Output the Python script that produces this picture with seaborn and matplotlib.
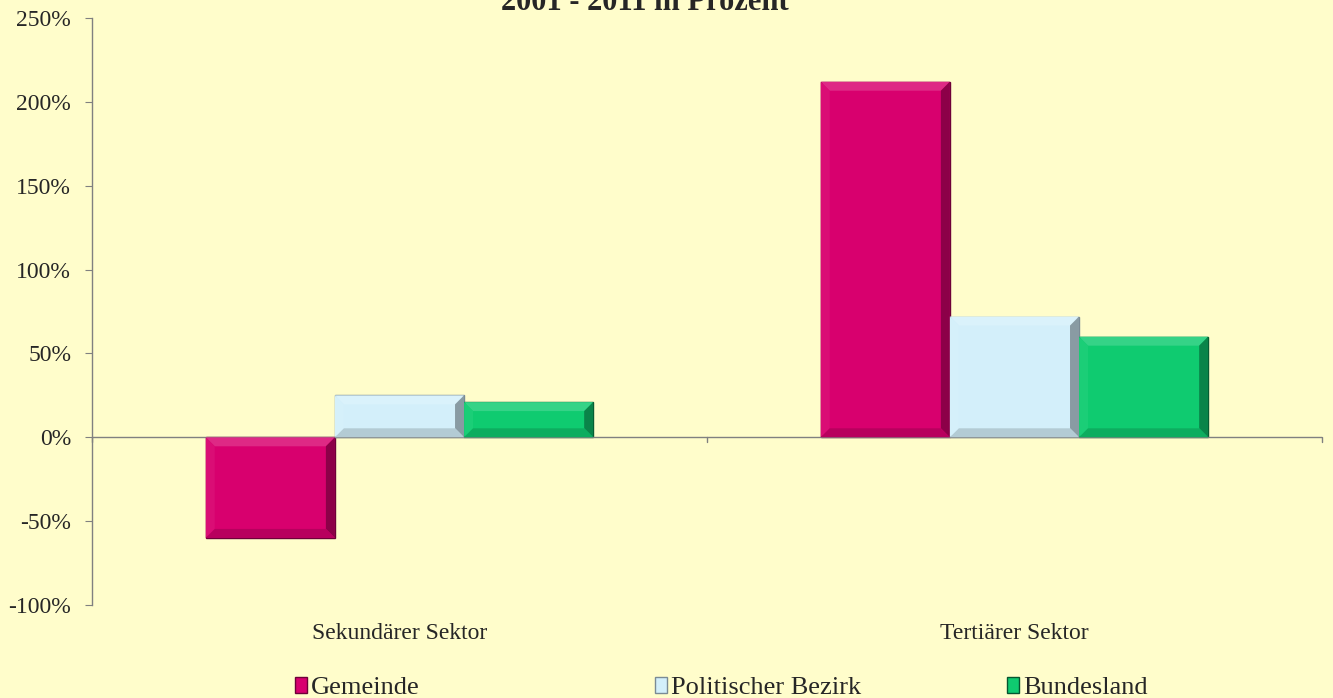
import numpy as np
import pandas as pd
import matplotlib.pyplot as plt
import matplotlib.patches as mpatches
from matplotlib.colors import to_rgb
import seaborn as sns

# data
sectors = ['Sekundärer Sektor', 'Tertiärer Sektor']
regions = ['Gemeinde', 'Politischer Bezirk', 'Bundesland']
gemeinde = [-60, 212]
bezirk = [25, 72]
bundesland = [21, 60]
yticks = [-100, -50, 0, 50, 100, 150, 200, 250]
colors = ['#D8006E', '#D3EFFA', '#0FCB70']
edge_colors = ['#6E0038', '#7A8B95', '#06552F']

df = pd.DataFrame({
    'Sektor': sectors * 3,
    'Region': [r for r in regions for _ in sectors],
    'Wert': gemeinde + bezirk + bundesland,
})


def mix(c, other, t):
    c, o = np.array(to_rgb(c)), np.array(to_rgb(other))
    return tuple(c * (1 - t) + o * t)


sns.set_style('white')
plt.rcParams['font.family'] = ['Liberation Serif', 'DejaVu Serif']

bg = '#FFFDCB'
fig = plt.figure(figsize=(13.33, 6.98), dpi=100, facecolor=bg)
ax = fig.add_axes([0.069, 0.1332, 0.9227, 0.841])
ax.set_facecolor(bg)

sns.barplot(data=df, x='Sektor', y='Wert', hue='Region', order=sectors,
            hue_order=regions, palette=colors, width=0.63, saturation=1,
            ax=ax, legend=False)

ax.set_xlim(-0.5, 1.5)
ax.set_ylim(-100, 250)

# bevel look: light top/left, dark right/bottom (sizes in pixels -> data)
bev_px = 9
ax_w = fig.get_figwidth() * fig.dpi * ax.get_position().width
ax_h = fig.get_figheight() * fig.dpi * ax.get_position().height
dx = bev_px * 2.0 / ax_w
dy = bev_px * 350.0 / ax_h
for cont, c, ec in zip(ax.containers, colors, edge_colors):
    for p in cont:
        p.set_edgecolor(ec)
        p.set_linewidth(1.0)
        x0, x1 = p.get_x(), p.get_x() + p.get_width()
        y0, y1 = sorted([p.get_y(), p.get_y() + p.get_height()])
        ix0, ix1, iy0, iy1 = x0 + dx, x1 - dx, y0 + dy, y1 - dy
        parts = [
            ([x0, x1, ix1, ix0], [y1, y1, iy1, iy1], mix(c, 'white', 0.16)),
            ([x0, ix0, ix0, x0], [y0, iy0, iy1, y1], mix(c, 'white', 0.05)),
            ([x1, ix1, ix1, x1], [y0, iy0, iy1, y1], mix(c, 'black', 0.35)),
            ([x0, x1, ix1, ix0], [y0, y0, iy0, iy0], mix(c, 'black', 0.15)),
        ]
        for xs, ys, fc in parts:
            ax.fill(xs, ys, color=fc, lw=0, zorder=p.get_zorder() + 0.1)

ax.set_yticks(yticks)
ax.set_yticklabels([f'{v}%' for v in yticks], fontsize=17)
ax.tick_params(axis='y', direction='out', length=5, color='#808080', pad=10, left=True)
ax.tick_params(axis='x', length=0, labelsize=17, pad=13)
ax.set_xlabel('')
ax.set_ylabel('')

for side in ['top', 'right', 'bottom']:
    ax.spines[side].set_visible(False)
ax.spines['left'].set_color('#808080')
ax.spines['left'].set_linewidth(1.0)

# zero line with category separators
ax.axhline(0, color='#808080', lw=1.0, zorder=1)
for xb in [-0.5, 0.5, 1.5]:
    ax.plot([xb, xb], [0, -3], color='#808080', lw=1.0, clip_on=False)

fig.text(0.484, 1 - 10 / 698, '2001 - 2011 in Prozent', ha='center', va='baseline',
         fontsize=22, fontweight='bold')

# legend, three evenly spaced slots like the original
for name, c, ec, xpos in zip(regions, colors, edge_colors, [295, 655, 1007]):
    h = mpatches.Patch(facecolor=c, edgecolor=ec, label=name)
    fig.legend(handles=[h], loc='center left', bbox_to_anchor=(xpos / 1333, 0.014),
               frameon=False, fontsize=19, handlelength=0.45, handleheight=0.55,
               handletextpad=0.15, borderpad=0, borderaxespad=0)

fig.savefig('out.png', dpi=100, facecolor=bg)
